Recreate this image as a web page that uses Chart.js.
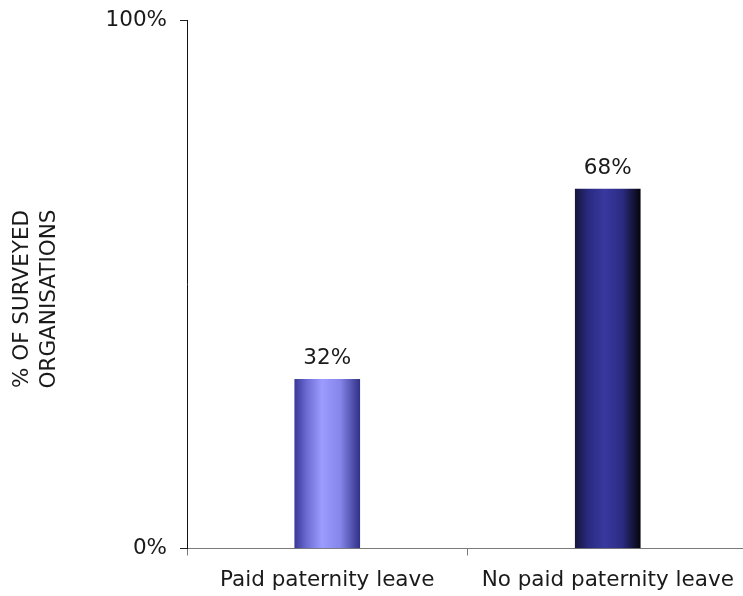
<!DOCTYPE html>
<html>
<head>
<meta charset="utf-8">
<script src="https://cdn.jsdelivr.net/npm/chart.js@4"></script>
<style>
    html, body { margin: 0; padding: 0; background: #fff; overflow: hidden; }
    #wrap { position: relative; width: 750px; height: 596px; }
</style>
</head>
<body>
<div id="wrap"><canvas id="leaveChart"></canvas></div>
<script>
// Dados do gráfico
const categories = ['Paid paternity leave', 'No paid paternity leave'];
const shares = [32, 68];
const axisTitleLines = ['% OF SURVEYED', 'ORGANISATIONS'];
const yTicks = [0, 100];

const FONT = '"DejaVu Sans", Verdana, sans-serif';
const TEXT = '#1a1a1a';

// Gradientes horizontais (efeito cilindro) para cada barra
const barShades = [
    [[0, '#3a3a98'], [0.18, '#6a6ad2'], [0.42, '#9c9cff'], [0.7, '#8585ea'], [1, '#323288']],
    [[0, '#16163e'], [0.2, '#2a2a80'], [0.45, '#3838a0'], [0.72, '#2c2c84'], [1, '#05050e']]
];

function barGradient(context) {
    const chart = context.chart;
    if (!chart.chartArea || context.dataIndex === undefined) return '#9999ff';
    const xScale = chart.scales.x;
    const meta = chart.getDatasetMeta(context.datasetIndex);
    const el = meta.data[context.dataIndex];
    const half = (el && el.width ? el.width : 65) / 2;
    const cx = xScale.getPixelForValue(context.dataIndex);
    const g = chart.ctx.createLinearGradient(cx - half, 0, cx + half, 0);
    barShades[context.dataIndex].forEach(([stop, color]) => g.addColorStop(stop, color));
    return g;
}

// Rótulos de valor acima das barras
const valueLabels = {
    id: 'valueLabels',
    afterDatasetsDraw(chart) {
        const ctx = chart.ctx;
        const meta = chart.getDatasetMeta(0);
        ctx.save();
        ctx.font = '21.5px ' + FONT;
        ctx.fillStyle = TEXT;
        ctx.textAlign = 'center';
        ctx.textBaseline = 'alphabetic';
        meta.data.forEach((bar, i) => {
            ctx.fillText(shares[i] + '%', bar.x, bar.y - 15);
        });
        ctx.restore();
    }
};

// Título do eixo Y em duas linhas
const axisTitle = {
    id: 'axisTitle',
    afterDraw(chart) {
        const ctx = chart.ctx;
        ctx.save();
        ctx.font = '21.5px ' + FONT;
        ctx.fillStyle = TEXT;
        ctx.textAlign = 'center';
        ctx.textBaseline = 'alphabetic';
        axisTitleLines.forEach((line, i) => {
            ctx.save();
            ctx.translate(28 + i * 27, 299);
            ctx.rotate(-Math.PI / 2);
            ctx.fillText(line, 0, 0);
            ctx.restore();
        });
        ctx.restore();
    }
};

new Chart(document.getElementById('leaveChart'), {
    type: 'bar',
    data: {
        labels: categories,
        datasets: [{
            data: shares,
            backgroundColor: barGradient,
            borderWidth: 0,
            barThickness: 65
        }]
    },
    options: {
        responsive: true,
        maintainAspectRatio: false,
        animation: false,
        devicePixelRatio: 1,
        layout: { padding: { top: 20, right: 2, left: 0, bottom: 0 } },
        plugins: {
            legend: { display: false },
            tooltip: { enabled: false }
        },
        scales: {
            x: {
                afterFit(scale) { scale.height = 47.5; },
                grid: {
                    offset: true,
                    drawOnChartArea: false,
                    drawTicks: true,
                    tickLength: 7,
                    color: '#7a7a7a'
                },
                border: { color: '#7a7a7a', width: 1 },
                ticks: {
                    padding: 12,
                    color: TEXT,
                    font: { family: FONT, size: 21.5 }
                }
            },
            y: {
                min: 0,
                max: 100,
                afterFit(scale) {
                    // largura fixa e sem folga extra acima do 100%
                    scale.width = 187;
                    scale.paddingTop = 0;
                    scale.paddingBottom = 0;
                },
                afterBuildTicks(scale) {
                    scale.ticks = yTicks.map(v => ({ value: v }));
                },
                grid: {
                    drawOnChartArea: false,
                    drawTicks: true,
                    tickLength: 7,
                    color: '#222'
                },
                border: { color: '#111', width: 1 },
                ticks: {
                    padding: 13,
                    color: TEXT,
                    font: { family: FONT, size: 21.5 },
                    callback: v => v + '%'
                }
            }
        }
    },
    plugins: [valueLabels, axisTitle]
});
</script>
</body>
</html>
